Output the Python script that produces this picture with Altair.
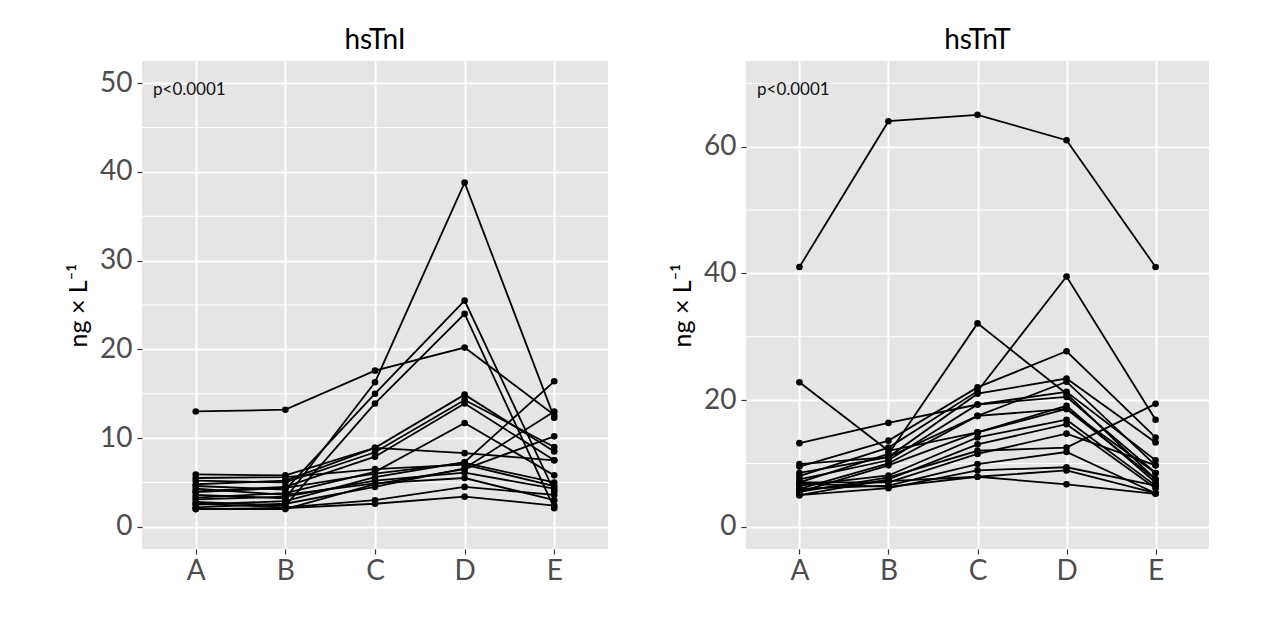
import altair as alt
import pandas as pd

FONT = "Lato"

categories = ["A", "B", "C", "D", "E"]

# hsTnI (ng/L) per patient at time points A..E
tni_series = [
    [13.0, 13.2, 17.6, 20.2, 12.6],
    [3.6, 3.2, 16.3, 38.8, 12.3],
    [4.6, 4.2, 15.0, 25.5, 4.0],
    [2.8, 2.4, 13.9, 24.0, 2.1],
    [5.9, 5.8, 8.9, 14.9, 8.5],
    [5.2, 5.0, 8.4, 14.3, 9.0],
    [4.0, 4.5, 7.9, 13.9, 7.5],
    [3.3, 3.8, 6.2, 11.7, 5.8],
    [4.8, 5.2, 8.9, 8.3, 7.5],
    [2.5, 2.9, 5.6, 7.3, 16.4],
    [2.0, 2.0, 4.8, 6.5, 10.2],
    [3.9, 4.4, 6.0, 7.2, 5.0],
    [2.2, 2.6, 4.5, 6.6, 13.0],
    [3.1, 3.4, 5.2, 6.1, 4.3],
    [4.3, 3.6, 4.9, 5.5, 3.0],
    [2.6, 2.2, 3.0, 4.5, 3.6],
    [2.0, 2.1, 2.6, 3.4, 2.4],
    [5.5, 5.6, 6.5, 7.0, 4.6],
]

# hsTnT (ng/L) per patient at time points A..E
tnt_series = [
    [41.0, 64.0, 65.0, 61.0, 41.0],
    [22.8, 12.0, 14.9, 18.6, 8.5],
    [13.2, 16.4, 19.3, 21.3, 10.5],
    [7.0, 11.5, 32.1, 21.0, 7.5],
    [8.0, 12.5, 21.4, 39.5, 16.9],
    [9.5, 13.6, 22.0, 27.7, 14.1],
    [8.5, 11.0, 21.0, 23.4, 13.3],
    [6.0, 10.0, 17.5, 22.9, 9.7],
    [7.5, 10.5, 19.3, 20.5, 8.5],
    [5.5, 9.7, 14.9, 19.1, 7.0],
    [6.5, 8.1, 14.1, 16.9, 6.5],
    [5.0, 7.5, 13.0, 16.2, 6.1],
    [7.0, 7.0, 11.5, 14.7, 9.7],
    [5.5, 7.8, 12.0, 12.5, 19.4],
    [6.0, 6.5, 9.9, 11.8, 5.3],
    [5.0, 6.1, 8.9, 9.4, 6.5],
    [5.8, 7.2, 7.9, 8.9, 5.3],
    [6.8, 6.3, 7.9, 6.7, 5.2],
    [9.9, 11.0, 17.5, 18.6, 7.5],
]

tni_major = [0, 10, 20, 30, 40, 50]
tni_minor = [5, 15, 25, 35, 45]
tnt_major = [0, 20, 40, 60]
tnt_minor = [10, 30, 50, 70]

annotation = "p<0.0001"
y_title = "ng × L⁻¹"


def to_long(series):
    rows = []
    for i, s in enumerate(series):
        for c, v in zip(categories, s):
            rows.append({"patient": i, "time": c, "value": v})
    return pd.DataFrame(rows)


def panel(series, title, domain, major, minor, width):
    df = to_long(series)
    y_scale = alt.Scale(domain=domain, nice=False, zero=False)
    y_axis = alt.Axis(
        title=y_title, values=major, grid=True, gridColor="white", gridWidth=2,
        tickColor="#333333", tickSize=5, tickWidth=1.2, domain=False,
        labelFontSize=28, labelColor="#4D4D4D", labelPadding=5, labelFont=FONT,
        titleFontSize=25, titleFontWeight="normal", titleColor="black",
        titleFont=FONT, titlePadding=8,
    )
    x_enc = alt.X(
        "time:O",
        scale=alt.Scale(type="point", padding=0.6, domain=categories),
        axis=alt.Axis(
            title=None, labelAngle=0, grid=True, gridColor="white", gridWidth=2,
            tickColor="#333333", tickSize=5, tickWidth=1.2, domain=False,
            labelFontSize=28, labelColor="#4D4D4D", labelPadding=3, labelFont=FONT,
        ),
    )
    y_enc = alt.Y("value:Q", scale=y_scale, axis=y_axis)

    minor_grid = alt.Chart(pd.DataFrame({"value": minor})).mark_rule(
        color="white", strokeWidth=1.1
    ).encode(y=y_enc)
    lines = alt.Chart(df).mark_line(color="black", strokeWidth=1.8).encode(
        x=x_enc, y=y_enc, detail="patient:N", order="time:O"
    )
    points = alt.Chart(df).mark_circle(color="black", size=44, opacity=1).encode(
        x=x_enc, y=y_enc
    )
    label = alt.Chart(pd.DataFrame({"t": [annotation]})).mark_text(
        align="left", baseline="middle", fontSize=17, font=FONT, color="#111111"
    ).encode(text="t:N", x=alt.value(11), y=alt.value(29))

    return alt.layer(minor_grid, lines, points, label).properties(
        width=width,
        height=488,
        title=alt.TitleParams(
            title, fontSize=28, fontWeight="normal", font=FONT, color="black",
            anchor="middle", offset=6,
        ),
    )


left = panel(tni_series, "hsTnI", [-2.5, 52.5], tni_major, tni_minor, 466)
right = panel(tnt_series, "hsTnT", [-3.5, 73.5], tnt_major, tnt_minor, 463)

chart = alt.hconcat(left, right, spacing=61).properties(
    padding={"left": 58, "top": 19, "right": 5, "bottom": 5},
    background="white",
).configure_view(fill="#E5E5E5", stroke=None)

chart.save("out.html", embed_options={"renderer": "svg", "actions": False})
